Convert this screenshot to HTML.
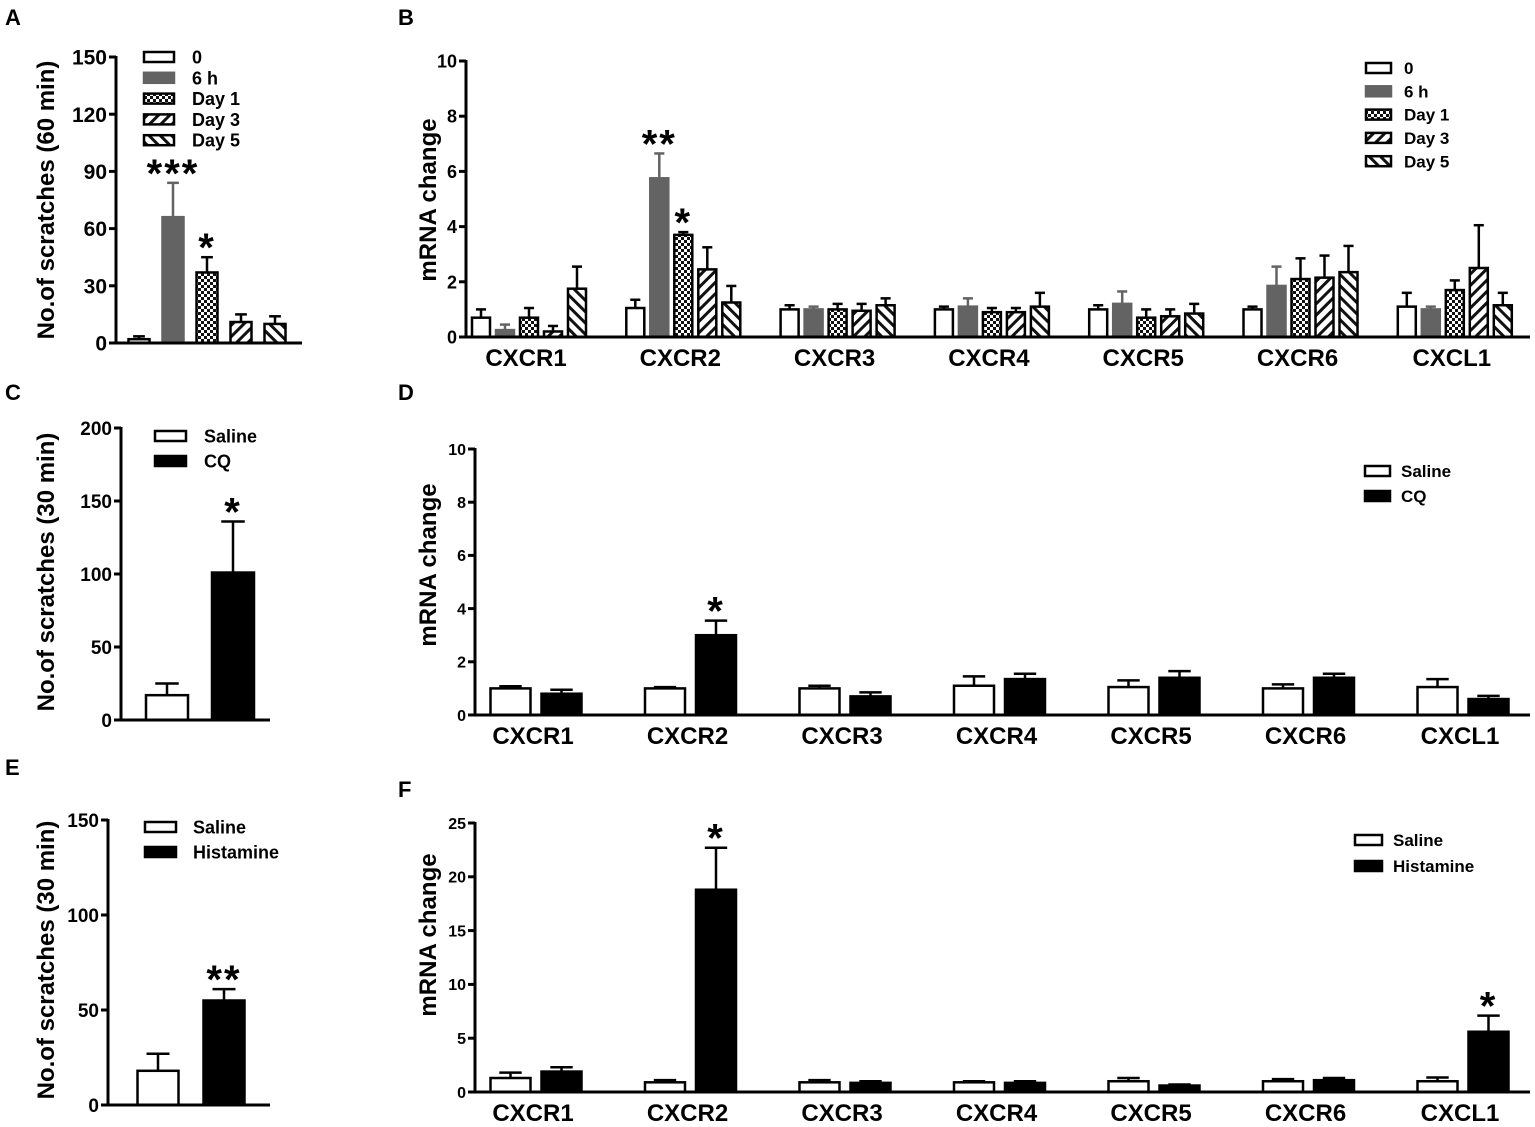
<!DOCTYPE html>
<html><head><meta charset="utf-8"><style>
html,body{margin:0;padding:0;background:#fff}
svg{display:block;font-family:"Liberation Sans",Arial,sans-serif;font-weight:bold}
</style></head><body>
<svg id="fig" width="1535" height="1127" viewBox="0 0 1535 1127" xmlns="http://www.w3.org/2000/svg">
<defs>
<pattern id="pChk" width="6" height="6" patternUnits="userSpaceOnUse"><rect width="6" height="6" fill="#fff"/><rect width="3" height="3" fill="#111"/><rect x="3" y="3" width="3" height="3" fill="#111"/></pattern>
<pattern id="pFwd" width="8" height="8" patternUnits="userSpaceOnUse" patternTransform="rotate(45)"><rect width="8" height="8" fill="#fff"/><rect width="3" height="8" fill="#111"/></pattern>
<pattern id="pBack" width="8" height="8" patternUnits="userSpaceOnUse" patternTransform="rotate(-45)"><rect width="8" height="8" fill="#fff"/><rect width="3" height="8" fill="#111"/></pattern>
</defs>
</svg>
<script>
// ---- Data ----
const timeSeries = ["0","6 h","Day 1","Day 3","Day 5"];
const genes = ["CXCR1","CXCR2","CXCR3","CXCR4","CXCR5","CXCR6","CXCL1"];
const aValues = [2, 66, 37, 11, 10];
const aErrors = [3.5, 84, 45, 15, 14];
const aStars = ["", "***", "*", "", ""];
const aTicks = [0,30,60,90,120,150];
const bValues = [
 [0.7,1.05,1.0,1.0,1.0,1.0,1.1],
 [0.25,5.75,1.0,1.1,1.2,1.85,1.0],
 [0.7,3.7,1.0,0.9,0.7,2.1,1.7],
 [0.2,2.45,0.95,0.9,0.75,2.15,2.5],
 [1.75,1.25,1.15,1.1,0.85,2.35,1.15]];
const bErrors = [
 [1.0,1.35,1.15,1.1,1.15,1.1,1.6],
 [0.45,6.65,1.1,1.4,1.65,2.55,1.1],
 [1.05,3.8,1.2,1.05,1.0,2.85,2.05],
 [0.4,3.25,1.2,1.05,1.0,2.95,4.05],
 [2.55,1.85,1.4,1.6,1.2,3.3,1.6]];
const bStars = [["","","","","","",""],["","**","","","","",""],["","*","","","","",""],["","","","","","",""],["","","","","","",""]];
const bTicks = [0,2,4,6,8,10];
const cSeries = ["Saline","CQ"];
const cValues = [17, 101];
const cErrors = [25, 136];
const cStars = ["", "*"];
const cTicks = [0,50,100,150,200];
const dValues = [[1.0,1.0,1.0,1.1,1.05,1.0,1.05],[0.8,3.0,0.7,1.35,1.4,1.4,0.6]];
const dErrors = [[1.08,1.05,1.1,1.45,1.3,1.15,1.35],[0.95,3.55,0.85,1.55,1.65,1.55,0.72]];
const dStars = [["","","","","","",""],["","*","","","","",""]];
const dTicks = [0,2,4,6,8,10];
const eSeries = ["Saline","Histamine"];
const eValues = [18, 55];
const eErrors = [27, 61];
const eStars = ["", "**"];
const eTicks = [0,50,100,150];
const fValues = [[1.3,0.9,0.9,0.9,1.0,1.0,1.0],[1.9,18.8,0.85,0.85,0.6,1.1,5.6]];
const fErrors = [[1.8,1.1,1.1,1.0,1.3,1.2,1.35],[2.3,22.7,1.0,1.0,0.7,1.3,7.1]];
const fStars = [["","","","","","",""],["","*","","","","","*"]];
const fTicks = [0,5,10,15,20,25];

const NS="http://www.w3.org/2000/svg";
const svg=document.getElementById('fig');
function el(tag,attrs,parent,text){const e=document.createElementNS(NS,tag);for(const k in attrs)e.setAttribute(k,attrs[k]);if(text!==undefined)e.textContent=text;(parent||svg).appendChild(e);return e;}
const fiveFills=["#fff","#636363","url(#pChk)","url(#pFwd)","url(#pBack)"];
const fiveStroke=["#000","#636363","#000","#000","#000"];
const twoFills=["#fff","#000"];
const twoStroke=["#000","#000"];

function panel(c){
  const g=el('g',{});
  
  
  const ys=v=>c.y0-(v/c.ymax)*(c.y0-c.yTop);
  const nS=c.values.length;
  for(let s=0;s<nS;s++){
    for(let i=0;i<c.values[s].length;i++){
      const cx=c.gx0+i*c.gap+(s-(nS-1)/2)*c.step;
      const v=c.values[s][i], e=c.errors[s][i];
      const col=c.stroke[s];
      const ln=el('line',{x1:cx,x2:cx,y1:ys(v),y2:ys(e),stroke:col,'stroke-width':2.5},g);
      
      
      const cap=el('line',{x1:cx-c.bw*0.28,x2:cx+c.bw*0.28,y1:ys(e),y2:ys(e),stroke:col,'stroke-width':2.5},g);
      
      
      const r=el('rect',{x:cx-c.bw/2,y:ys(v),width:c.bw,height:Math.max(0,c.y0-ys(v)),fill:c.fills[s],stroke:col,'stroke-width':2.5},g);
      
      
      const st=c.stars[s][i];
      if(st){const t=el('text',{x:cx,y:ys(e)+4,'text-anchor':'middle','font-size':40,'letter-spacing':2},g,st);
        
        }
    }
  }
  const ya=el('line',{x1:c.ax,x2:c.ax,y1:c.yTop-1,y2:c.y0+1.5,stroke:'#000','stroke-width':3},g);
  
  
  const xa=el('line',{x1:c.ax-1.5,x2:c.xEnd,y1:c.y0,y2:c.y0,stroke:'#000','stroke-width':3},g);
  
  
  c.ticks.forEach(t=>{
    el('line',{x1:c.ax-7,x2:c.ax,y1:ys(t),y2:ys(t),stroke:'#000','stroke-width':3},g);
    const tl=el('text',{x:c.ax-9,y:ys(t)+c.tfs*0.36,'text-anchor':'end','font-size':c.tfs},g,t);
    
    
  });
  if(c.cats){c.cats.forEach((n,i)=>{
    const t=el('text',{x:c.gx0+i*c.gap-3,y:c.y0+29,'text-anchor':'middle','font-size':24},g,n);
    
    
  });}
  const yt=el('text',{x:0,y:0,'text-anchor':'middle','font-size':24,transform:`translate(${c.tx},${c.ty}) rotate(-90)`},g,c.title);
  
  
  c.legend.forEach((n,s)=>{
    const y=c.ly+s*c.lgap;
    const r=el('rect',{x:c.lx,y:y-5,width:c.lw,height:10,fill:c.fills[s],stroke:c.stroke[s],'stroke-width':2.5},g);
    
    
    const t=el('text',{x:c.lx+c.lw+c.ltx,y:y+c.lfs*0.36,'font-size':c.lfs},g,n);
    
    
  });
  const L=el('text',{x:c.letter[0],y:c.letter[1],'font-size':22},g,c.letter[2]);
  
  
}
const wrap=a=>a.map(v=>[v]);
panel({name:'panel-a',ax:116,y0:343,yTop:57,ymax:150,ticks:aTicks,xEnd:302,gx0:207,gap:0,step:34,bw:21,
 values:wrap(aValues),errors:wrap(aErrors),stars:wrap(aStars),fills:fiveFills,stroke:fiveStroke,tfs:21,
 title:'No.of scratches (60 min)',tx:54,ty:200,legend:timeSeries,lx:144,ly:57,lgap:20.8,lw:30,ltx:18,lfs:18,letter:[5,25,'A']});
panel({name:'panel-b',ax:466,y0:337,yTop:61,ymax:10,ticks:bTicks,xEnd:1530,gx0:529,gap:154.3,step:24,bw:18,cats:genes,
 values:bValues,errors:bErrors,stars:bStars,fills:fiveFills,stroke:fiveStroke,tfs:18,
 title:'mRNA change',tx:436,ty:200,legend:timeSeries,lx:1366,ly:68,lgap:23.3,lw:25,ltx:13,lfs:17,letter:[398,25,'B']});
panel({name:'panel-c',ax:121,y0:720,yTop:428,ymax:200,ticks:cTicks,xEnd:270,gx0:200,gap:0,step:66,bw:42,
 values:wrap(cValues),errors:wrap(cErrors),stars:wrap(cStars),fills:twoFills,stroke:twoStroke,tfs:19,
 title:'No.of scratches (30 min)',tx:54,ty:572,legend:cSeries,lx:155,ly:436,lgap:25,lw:31,ltx:18,lfs:18,letter:[5,400,'C']});
panel({name:'panel-d',ax:475,y0:715,yTop:449,ymax:10,ticks:dTicks,xEnd:1530,gx0:536,gap:154.5,step:51,bw:40,cats:genes,
 values:dValues,errors:dErrors,stars:dStars,fills:twoFills,stroke:twoStroke,tfs:16,
 title:'mRNA change',tx:436,ty:565,legend:cSeries,lx:1365,ly:471,lgap:25,lw:25,ltx:11,lfs:17,letter:[398,400,'D']});
panel({name:'panel-e',ax:108,y0:1105,yTop:820,ymax:150,ticks:eTicks,xEnd:270,gx0:191,gap:0,step:66,bw:41,
 values:wrap(eValues),errors:wrap(eErrors),stars:wrap(eStars),fills:twoFills,stroke:twoStroke,tfs:19,
 title:'No.of scratches (30 min)',tx:54,ty:960,legend:eSeries,lx:145,ly:827,lgap:25,lw:31,ltx:17,lfs:18,letter:[5,775,'E']});
panel({name:'panel-f',ax:475,y0:1092,yTop:823,ymax:25,ticks:fTicks,xEnd:1530,gx0:536,gap:154.5,step:51,bw:40,cats:genes,
 values:fValues,errors:fErrors,stars:fStars,fills:twoFills,stroke:twoStroke,tfs:16,
 title:'mRNA change',tx:436,ty:935,legend:eSeries,lx:1355,ly:840,lgap:26,lw:27,ltx:11,lfs:17,letter:[398,797,'F']});
</script>
</body></html>
